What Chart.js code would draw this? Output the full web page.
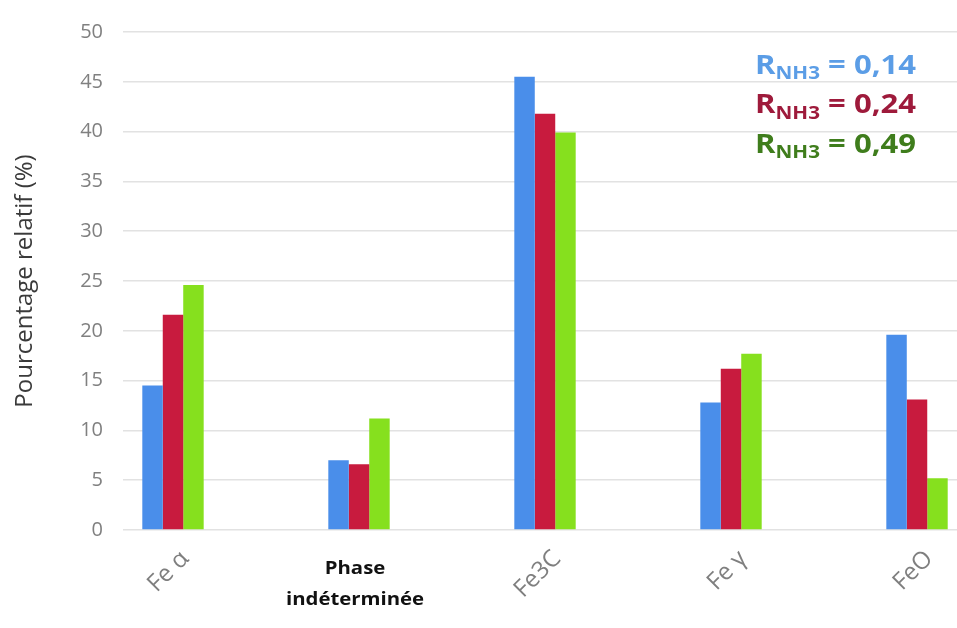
<!DOCTYPE html>
<html>
<head>
<meta charset="utf-8">
<script src="https://cdn.jsdelivr.net/npm/chart.js@4.4.1/dist/chart.umd.min.js"></script>
<style>
html,body{margin:0;padding:0;background:#fff;}
#wrap{width:957px;height:628px;position:relative;}
</style>
</head>
<body>
<div id="wrap"><canvas id="c"></canvas></div>
<script>
// ---- data ----
const categories = ['Fe α', 'Phase\nindéterminée', 'Fe3C', 'Fe γ', 'FeO'];
const seriesNames = ['0,14', '0,24', '0,49'];
const r014 = [14.5, 7.0, 45.5, 12.8, 19.6];
const r024 = [21.6, 6.6, 41.8, 16.2, 13.1];
const r049 = [24.6, 11.2, 39.9, 17.7, 5.2];
const yMin = 0, yMax = 50, yStep = 5;
const yTitle = 'Pourcentage relatif (%)';

const barColors = ['#4a8eea', '#c81b3e', '#86e01e'];
const legendColors = ['#5b9de6', '#9e1a3b', '#3f7d1c'];
const FONT = "'Open Sans', sans-serif";

function pts(vals){ return vals.map((v,i)=>({x:i, y:v})); }
const seriesValues = [r014, r024, r049];

const labelsPlugin = {
  id: 'labelsPlugin',
  afterDraw(chart){
    const ctx = chart.ctx;
    const xs = chart.scales.x;
    ctx.save();
    categories.forEach((c,i)=>{
      const px = xs.getPixelForValue(i);
      if (c.indexOf('\n') >= 0) {
        const lines = c.split('\n');
        ctx.save();
        ctx.translate(px - 4, 0);
        ctx.scale(1.13, 1);
        ctx.font = "bold 18px " + FONT;
        ctx.fillStyle = '#111';
        ctx.textAlign = 'center';
        ctx.textBaseline = 'middle';
        lines.forEach((ln,k)=> ctx.fillText(ln, 0, 569 + k*31));
        ctx.restore();
      } else {
        ctx.save();
        ctx.translate(px + 12, 555);
        ctx.rotate(-Math.PI/4);
        ctx.font = "24px " + FONT;
        ctx.fillStyle = '#7f7f7f';
        ctx.textAlign = 'right';
        ctx.textBaseline = 'middle';
        ctx.fillText(c, 0, 0);
        ctx.restore();
      }
    });
    // legend block
    seriesNames.forEach((n,k)=>{
      const y = 66 + k*39.5;
      ctx.save();
      ctx.translate(755, y);
      ctx.scale(1.15, 1);
      let x = 0;
      ctx.fillStyle = legendColors[k];
      ctx.textAlign = 'left';
      ctx.textBaseline = 'middle';
      ctx.font = "bold 27px " + FONT;
      ctx.fillText('R', x, 0);
      x += ctx.measureText('R').width;
      ctx.font = "bold 18px " + FONT;
      ctx.fillText('NH3', x, 8);
      x += ctx.measureText('NH3').width;
      ctx.font = "bold 27px " + FONT;
      ctx.fillText(' = ' + n, x, 0);
      ctx.restore();
    });
    ctx.restore();
  }
};

new Chart(document.getElementById('c'), {
  type: 'bar',
  data: {
    datasets: seriesValues.map((vals,k)=>({
      label: 'R NH3 = ' + seriesNames[k],
      data: pts(vals),
      backgroundColor: barColors[k],
      borderWidth: 0,
      categoryPercentage: 0.33,
      barPercentage: 1.0
    }))
  },
  options: {
    responsive: true,
    maintainAspectRatio: false,
    animation: false,
    layout: { padding: { top: 20, bottom: 98, left: 0, right: 0 } },
    plugins: { legend: { display: false }, tooltip: { enabled: false } },
    scales: {
      x: {
        type: 'linear',
        offset: false,
        min: -0.2688,
        max: 4.215,
        display: false,
        ticks: { stepSize: 1, includeBounds: false }
      },
      y: {
        min: yMin, max: yMax,
        afterFit(s){ s.width = 123; },
        ticks: { stepSize: yStep, color: '#808080', font: { family: FONT, size: 20 }, padding: 20 },
        grid: { color: '#e2e2e2', lineWidth: 1.5, drawTicks: false },
        border: { display: false },
        title: { display: true, text: yTitle, color: '#3a3a3a', font: { family: FONT, size: 24 }, padding: { top: 11, bottom: 0 } }
      }
    }
  },
  plugins: [labelsPlugin]
});
</script>
</body>
</html>
